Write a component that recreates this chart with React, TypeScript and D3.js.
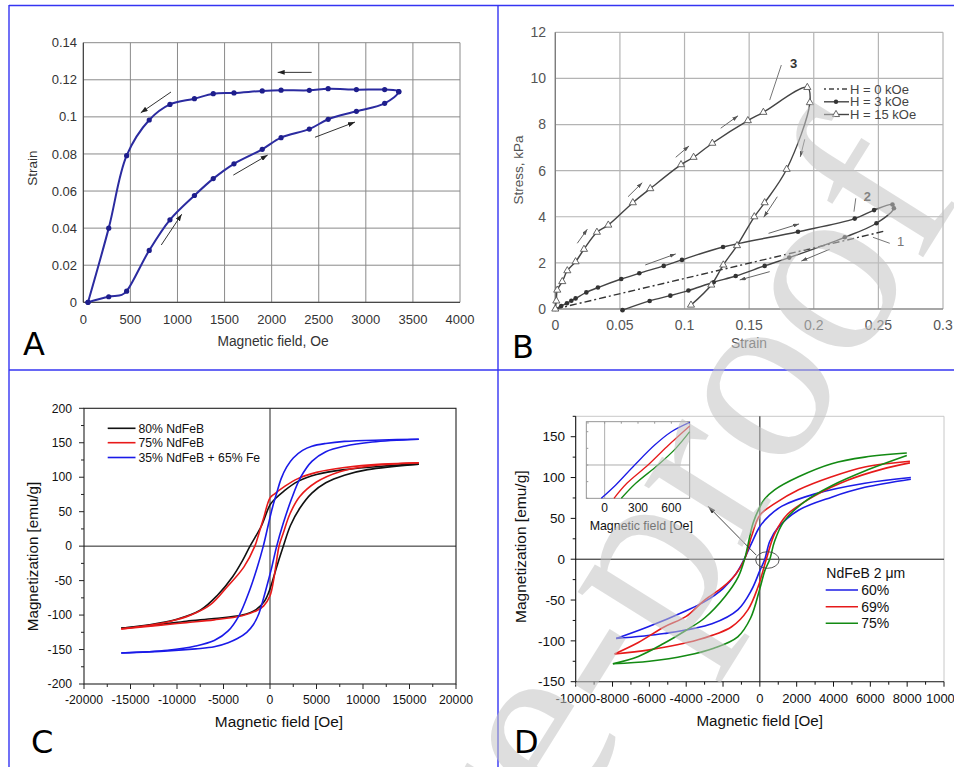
import { useEffect, useRef } from 'react';
import * as d3 from 'd3';

// ---------- panel A : strain vs magnetic field ----------
const aFieldUp = [50, 270, 408, 460, 700, 920, 1180, 1380, 1600, 1900, 2100, 2400, 2600, 2900, 3200, 3350];
const aStrainUp = [0, 0.003, 0.004, 0.006, 0.028, 0.0445, 0.0576, 0.0667, 0.0747, 0.0825, 0.0888, 0.0934, 0.0987, 0.103, 0.1073, 0.1136];
const aMarkUp = [1, 1, 0, 1, 1, 1, 1, 1, 1, 1, 1, 1, 1, 1, 1, 1];
const aFieldDown = [3350, 3200, 2900, 2600, 2400, 2100, 1900, 1600, 1380, 1180, 920, 700, 460, 270, 50];
const aStrainDown = [0.1136, 0.1147, 0.1147, 0.1152, 0.1143, 0.1144, 0.114, 0.1129, 0.1125, 0.1098, 0.1067, 0.0983, 0.0791, 0.04, 0];
const aXTicks = [0, 500, 1000, 1500, 2000, 2500, 3000, 3500, 4000];
const aYTicks = [0, 0.02, 0.04, 0.06, 0.08, 0.1, 0.12, 0.14];
const aYLabels = ['0', '0.02', '0.04', '0.06', '0.08', '0.1', '0.12', '0.14'];
// arrows: [x1, y1, x2, y2] in data units
const aArrows = [
  [2425, 0.124, 2064, 0.124],
  [931, 0.1134, 610, 0.1022],
  [828, 0.0309, 1045, 0.0475],
  [1593, 0.0686, 1958, 0.0794],
  [2460, 0.089, 2885, 0.0972],
];

// ---------- panel B : stress vs strain ----------
const bStrain1 = [0, 0.255];
const bStress1 = [0, 3.38];
const bStrain2 = [0, 0.0046, 0.009, 0.0124, 0.0157, 0.024, 0.033, 0.051, 0.065, 0.0839, 0.098, 0.1298, 0.1878, 0.2317, 0.2467, 0.2609, 0.262, 0.2485, 0.224, 0.181, 0.162, 0.1396, 0.1225, 0.103, 0.089, 0.073, 0.052];
const bStress2 = [0, 0.13, 0.25, 0.36, 0.46, 0.72, 0.93, 1.3, 1.55, 1.87, 2.13, 2.69, 3.35, 3.92, 4.29, 4.53, 4.37, 3.72, 3.11, 2.23, 1.87, 1.43, 1.16, 0.8, 0.58, 0.35, -0.05];
const bStrain3 = [0, 0.0008, 0.0015, 0.0054, 0.0093, 0.0157, 0.0222, 0.0322, 0.041, 0.06, 0.0735, 0.0973, 0.107, 0.1215, 0.149, 0.161, 0.195, 0.197, 0.179, 0.162, 0.154, 0.1406, 0.13, 0.1207, 0.105];
const bStress3 = [0, 0.35, 0.82, 1.19, 1.66, 2.05, 2.59, 3.33, 3.64, 4.61, 5.22, 6.26, 6.58, 7.19, 8.17, 8.53, 9.61, 8.95, 6.06, 4.61, 4.0, 2.75, 1.91, 1.04, 0.17];
const bXTicks = [0, 0.05, 0.1, 0.15, 0.2, 0.25, 0.3];
const bXLabels = ['0', '0.05', '0.1', '0.15', '0.2', '0.25', '0.3'];
const bYTicks = [0, 2, 4, 6, 8, 10, 12];
const bLegend = ['H = 0 kOe', 'H = 3 kOe', 'H = 15 kOe'];
const bArrows = [
  [0.017, 2.85, 0.0248, 3.46],
  [0.0563, 4.87, 0.0673, 5.48],
  [0.0932, 6.58, 0.1035, 7.07],
  [0.128, 7.84, 0.1414, 8.38],
  [0.193, 7.36, 0.1896, 6.6],
  [0.1718, 4.87, 0.1613, 3.98],
  [0.0696, 1.91, 0.0932, 2.39],
  [0.165, 3.28, 0.1886, 3.69],
  [0.2123, 2.59, 0.1904, 2.08],
  [0.1659, 1.62, 0.1427, 1.26],
];
const bCurveLabels = ['3', '2', '1'];
const bLabelPos = [[0.1845, 10.65], [0.2414, 4.9], [0.2673, 2.92]];
const bLeaders = [[0.1749, 10.58, 0.1659, 9.06], [0.2325, 4.8, 0.2311, 4.22], [0.2588, 2.85, 0.2458, 3.11]];

// ---------- panel C : magnetization loops ----------
const cSeries = ['80% NdFeB', '75% NdFeB', '35% NdFeB + 65% Fe'];
const cColors = ['#111111', '#e81a1a', '#1a1ae8'];
const cBlackUpH = [16000, 12000, 8000, 5000, 3000, 1500, 500, 0, -900, -2150, -3000, -4000, -5700, -7500, -10000, -13000, -16000];
const cBlackUpM = [119, 116, 111, 104, 94, 80, 68, 60, 30, 0, -22, -44, -72, -93, -106, -114, -119];
const cBlackLoH = [-16000, -12000, -9000, -6000, -3000, -1500, -600, 0, 500, 1000, 1430, 2200, 3200, 4500, 6000, 8000, 10500, 16000];
const cBlackLoM = [-119, -114, -109, -105, -100, -92, -80, -62, -40, -18, 0, 30, 55, 77, 92, 103, 111, 119];
const cRedUpH = [16000, 12000, 8000, 5000, 3000, 1500, 500, 0, -700, -1200, -1630, -2800, -4600, -6400, -8500, -11000, -16000];
const cRedUpM = [121, 119, 114, 107, 98, 86, 76, 70, 40, 18, 0, -30, -59, -85, -100, -110, -120];
const cRedLoH = [-16000, -12000, -9000, -6000, -3000, -1500, -700, 0, 400, 700, 970, 1430, 2150, 3200, 5000, 7500, 10500, 16000];
const cRedLoM = [-120, -115, -111, -107, -101, -94, -87, -72, -48, -22, 0, 19, 47, 72, 93, 108, 116, 121];
const cBlueUpH = [16000, 12000, 8000, 6000, 4500, 3500, 2500, 1800, 1200, 700, 300, -200, -720, -1400, -2300, -3300, -4500, -6000, -8000, -11000, -16000];
const cBlueUpM = [155, 154, 152, 149, 145, 139, 128, 115, 98, 76, 58, 30, 0, -32, -68, -100, -123, -137, -145, -151, -155];
const cBlueLoH = [-16000, -11000, -8000, -6000, -4500, -3500, -2500, -1800, -1200, -700, -300, 200, 720, 1400, 2300, 3300, 4500, 6000, 8000, 11000, 16000];
const cBlueLoM = [-155, -152, -149, -146, -140, -134, -125, -114, -98, -76, -56, -30, 0, 32, 68, 100, 123, 137, 145, 151, 155];
const cXTicks = [-20000, -15000, -10000, -5000, 0, 5000, 10000, 15000, 20000];
const cYTicks = [-200, -150, -100, -50, 0, 50, 100, 150, 200];

// ---------- panel D : NdFeB 2 um loops ----------
const dSeries = ['60%', '69%', '75%'];
const dColors = ['#1c1ce6', '#e61a1a', '#138a13'];
const dBlueUpH = [8200, 5700, 3000, 1200, 500, 0, -460, -850, -1300, -2000, -3000, -4000, -6100, -7800];
const dBlueUpM = [100, 93, 80, 65, 53, 40, 19, 0, -18, -36, -52, -63, -83, -97];
const dBlueLoH = [-7800, -5200, -2600, -1200, -460, 0, 270, 540, 1000, 2100, 3900, 5700, 8200];
const dBlueLoM = [-97, -91, -79, -62, -38, -14, 0, 22, 39, 60, 76, 88, 98];
const dRedUpH = [8150, 5700, 3900, 2100, 800, 0, -450, -830, -1300, -2000, -3000, -4000, -5200, -6600, -7890];
const dRedUpM = [120, 113, 101, 85, 68, 54, 28, 0, -18, -34, -50, -70, -83, -102, -116];
const dRedLoH = [-7890, -6000, -3400, -1550, -650, -100, 350, 800, 1500, 3000, 4800, 6600, 8150];
const dRedLoM = [-116, -111, -99, -83, -62, -34, 0, 31, 55, 78, 97, 110, 118];
const dGreenUpH = [7980, 5700, 3900, 2100, 800, 270, 0, -370, -830, -1180, -1900, -3000, -4000, -5200, -6600, -7980];
const dGreenUpM = [130, 125, 117, 101, 85, 74, 64, 44, 0, -22, -46, -72, -87, -103, -119, -128];
const dGreenLoH = [-7980, -6000, -4000, -2500, -1200, -500, 0, 270, 540, 800, 1300, 2400, 3900, 5700, 7980];
const dGreenLoM = [-128, -125, -118, -109, -95, -72, -36, -14, 0, 22, 46, 70, 90, 108, 127];
const dXTicks = [-10000, -8000, -6000, -4000, -2000, 0, 2000, 4000, 6000, 8000, 10000];
const dYTicks = [-150, -100, -50, 0, 50, 100, 150];
// inset (zoom near the origin)
const insBlueH = [-30, 100, 270, 450, 600, 765];
const insBlueM = [-10, -6, 0, 6, 10, 12.8];
const insRedH = [84, 200, 390, 560, 765];
const insRedM = [-10, -5.5, 0, 5.5, 11.7];
const insGreenH = [150, 280, 480, 640, 765];
const insGreenM = [-10, -5.5, 0, 5, 10];
const insXTicks = [0, 300, 600];
// ellipse around origin and arrow to the inset (data units)
const dEllipse = [410, -1];
const dArrow = [-190, 4.9, -2815, 64.9];

const SANS = "'Liberation Sans', Arial, sans-serif";

const zip = (xs: number[], ys: number[]) => xs.map((x, i) => [x, ys[i]] as [number, number]);

export default function App() {
  const ref = useRef<SVGSVGElement>(null);

  useEffect(() => {
    const svg = d3.select(ref.current);
    svg.selectAll('*').remove();
    svg.append('rect').attr('width', 954).attr('height', 767).attr('fill', '#fff');

    const defs = svg.append('defs');
    const mk = (id: string, color: string, w: number, h: number) =>
      defs.append('marker').attr('id', id).attr('markerUnits', 'userSpaceOnUse')
        .attr('markerWidth', w).attr('markerHeight', h).attr('refX', w).attr('refY', h / 2)
        .attr('orient', 'auto')
        .append('path').attr('d', `M0,0L${w},${h / 2}L0,${h}Z`).attr('fill', color);
    mk('headA', '#222', 7, 5);
    mk('headB', '#555', 6, 4);
    mk('headD', '#333', 8, 5);

    const smooth = d3.line<[number, number]>().curve(d3.curveCatmullRom.alpha(0.5));

    // ================= A =================
    {
      const g = svg.append('g');
      const x = d3.scaleLinear().domain([0, 4000]).range([83.3, 460]);
      const y = d3.scaleLinear().domain([0, 0.14]).range([302.3, 42.7]);
      g.selectAll('.vg').data(aXTicks).enter().append('line')
        .attr('x1', d => x(d)).attr('x2', d => x(d)).attr('y1', y(0)).attr('y2', y(0.14))
        .attr('stroke', '#8a8a8a').attr('stroke-width', 1);
      g.selectAll('.hg').data(aYTicks).enter().append('line')
        .attr('y1', d => y(d)).attr('y2', d => y(d)).attr('x1', x(0)).attr('x2', x(4000))
        .attr('stroke', '#8a8a8a').attr('stroke-width', 1);
      g.append('line').attr('x1', x(0)).attr('x2', x(4000)).attr('y1', y(0)).attr('y2', y(0)).attr('stroke', '#333');
      g.append('line').attr('x1', x(0)).attr('x2', x(0)).attr('y1', y(0)).attr('y2', y(0.14)).attr('stroke', '#333');
      g.selectAll('.xl').data(aXTicks).enter().append('text')
        .attr('x', d => x(d)).attr('y', 319.5).attr('dy', '0.35em').attr('text-anchor', 'middle')
        .attr('font-family', SANS).attr('font-size', 13).attr('fill', '#333').text(d => String(d));
      g.selectAll('.yl').data(aYTicks).enter().append('text')
        .attr('x', 77).attr('y', d => y(d)).attr('dy', '0.35em').attr('text-anchor', 'end')
        .attr('font-family', SANS).attr('font-size', 13).attr('fill', '#333').text((d, i) => aYLabels[i]);
      g.append('text').attr('transform', 'translate(32,168) rotate(-90)').attr('dy', '0.35em')
        .attr('text-anchor', 'middle').attr('font-family', SANS).attr('font-size', 13.5).attr('fill', '#333').text('Strain');
      g.append('text').attr('x', 273).attr('y', 341).attr('dy', '0.35em')
        .attr('text-anchor', 'middle').attr('font-family', SANS).attr('font-size', 13.8).attr('fill', '#333').text('Magnetic field, Oe');

      const pts = zip(aFieldUp, aStrainUp).concat(zip(aFieldDown, aStrainDown).slice(1));
      const px = pts.map(p => [x(p[0]), y(p[1])] as [number, number]);
      g.append('path').attr('d', smooth(px)).attr('fill', 'none').attr('stroke', '#2b2ba0').attr('stroke-width', 2);
      const marks = zip(aFieldUp, aStrainUp).filter((_, i) => aMarkUp[i]).concat(zip(aFieldDown, aStrainDown));
      g.selectAll('.mA').data(marks).enter().append('circle')
        .attr('cx', d => x(d[0])).attr('cy', d => y(d[1])).attr('r', 2.6).attr('fill', '#1e1e8c');
      g.selectAll('.arA').data(aArrows).enter().append('line')
        .attr('x1', d => x(d[0])).attr('y1', d => y(d[1])).attr('x2', d => x(d[2])).attr('y2', d => y(d[3]))
        .attr('stroke', '#333').attr('stroke-width', 1).attr('marker-end', 'url(#headA)');
    }

    // ================= B =================
    {
      const g = svg.append('g');
      const x = d3.scaleLinear().domain([0, 0.3]).range([555.3, 943]);
      const y = d3.scaleLinear().domain([0, 12]).range([309, 32.3]);
      g.selectAll('.vg').data(bXTicks).enter().append('line')
        .attr('x1', d => x(d)).attr('x2', d => x(d)).attr('y1', y(0)).attr('y2', y(12))
        .attr('stroke', '#b4b4b4').attr('stroke-width', 1.2);
      g.selectAll('.hg').data(bYTicks).enter().append('line')
        .attr('y1', d => y(d)).attr('y2', d => y(d)).attr('x1', x(0)).attr('x2', x(0.3))
        .attr('stroke', '#b4b4b4').attr('stroke-width', 1.2);
      g.append('line').attr('x1', x(0)).attr('x2', x(0.3)).attr('y1', y(0)).attr('y2', y(0)).attr('stroke', '#777').attr('stroke-width', 1.2);
      g.append('line').attr('x1', x(0)).attr('x2', x(0)).attr('y1', y(0)).attr('y2', y(12)).attr('stroke', '#777').attr('stroke-width', 1.2);
      g.selectAll('.xl').data(bXTicks).enter().append('text')
        .attr('x', d => x(d)).attr('y', 325).attr('dy', '0.35em').attr('text-anchor', 'middle')
        .attr('font-family', SANS).attr('font-size', 14).attr('fill', '#555').text((d, i) => bXLabels[i]);
      g.selectAll('.yl').data(bYTicks).enter().append('text')
        .attr('x', 546).attr('y', d => y(d)).attr('dy', '0.35em').attr('text-anchor', 'end')
        .attr('font-family', SANS).attr('font-size', 14).attr('fill', '#555').text(d => String(d));
      g.append('text').attr('transform', 'translate(518,170) rotate(-90)').attr('dy', '0.35em')
        .attr('text-anchor', 'middle').attr('font-family', SANS).attr('font-size', 13.5).attr('fill', '#555').text('Stress,  kPa');
      g.append('text').attr('x', 749).attr('y', 343).attr('dy', '0.35em')
        .attr('text-anchor', 'middle').attr('font-family', SANS).attr('font-size', 13.8).attr('fill', '#555').text('Strain');

      const toPx = (xs: number[], ys: number[]) => zip(xs, ys).map(p => [x(p[0]), y(p[1])] as [number, number]);
      g.append('path').attr('d', d3.line()(toPx(bStrain1, bStress1))).attr('fill', 'none')
        .attr('stroke', '#333').attr('stroke-width', 1.4).attr('stroke-dasharray', '7,3,2,3');
      g.append('path').attr('d', smooth(toPx(bStrain2, bStress2))).attr('fill', 'none').attr('stroke', '#444').attr('stroke-width', 1.4);
      g.append('path').attr('d', smooth(toPx(bStrain3, bStress3))).attr('fill', 'none').attr('stroke', '#444').attr('stroke-width', 1.4);
      g.selectAll('.m2').data(toPx(bStrain2, bStress2)).enter().append('circle')
        .attr('cx', d => d[0]).attr('cy', d => d[1]).attr('r', 2.3).attr('fill', '#333');
      const tri = d3.symbol().type(d3.symbolTriangle).size(22);
      g.selectAll('.m3').data(toPx(bStrain3, bStress3)).enter().append('path')
        .attr('d', tri()).attr('transform', d => `translate(${d[0]},${d[1]})`)
        .attr('fill', '#fff').attr('stroke', '#555').attr('stroke-width', 0.9);

      g.selectAll('.arB').data(bArrows).enter().append('line')
        .attr('x1', d => x(d[0])).attr('y1', d => y(d[1])).attr('x2', d => x(d[2])).attr('y2', d => y(d[3]))
        .attr('stroke', '#666').attr('stroke-width', 1).attr('marker-end', 'url(#headB)');
      g.selectAll('.ld').data(bLeaders).enter().append('line')
        .attr('x1', d => x(d[0])).attr('y1', d => y(d[1])).attr('x2', d => x(d[2])).attr('y2', d => y(d[3]))
        .attr('stroke', '#777').attr('stroke-width', 1);
      g.selectAll('.cl').data(bLabelPos).enter().append('text')
        .attr('x', d => x(d[0])).attr('y', d => y(d[1])).attr('dy', '0.35em').attr('text-anchor', 'middle')
        .attr('font-family', SANS).attr('font-size', 13).attr('font-weight', (d, i) => (i < 2 ? 'bold' : 'normal'))
        .attr('fill', (d, i) => (i < 2 ? '#333' : '#777')).text((d, i) => bCurveLabels[i]);

      // legend
      const rows = [89, 101.8, 114.5];
      const lg = g.append('g');
      rows.forEach((ry, i) => {
        lg.append('line').attr('x1', 824).attr('x2', 849).attr('y1', ry).attr('y2', ry)
          .attr('stroke', '#444').attr('stroke-width', 1.4).attr('stroke-dasharray', i === 0 ? '2,3,5,3' : null);
        if (i === 1) lg.append('circle').attr('cx', 836).attr('cy', ry).attr('r', 2.2).attr('fill', '#333');
        if (i === 2) lg.append('path').attr('d', tri()).attr('transform', `translate(836,${ry})`)
          .attr('fill', '#fff').attr('stroke', '#555').attr('stroke-width', 0.9);
        lg.append('text').attr('x', 850).attr('y', ry).attr('dy', '0.35em').attr('font-family', SANS)
          .attr('font-size', 13).attr('fill', '#444').text(bLegend[i]);
      });
    }

    // ================= C =================
    {
      const g = svg.append('g');
      const x = d3.scaleLinear().domain([-20000, 20000]).range([84, 456]);
      const y = d3.scaleLinear().domain([-200, 200]).range([684, 408.3]);
      g.append('rect').attr('x', x(-20000)).attr('y', y(200)).attr('width', x(20000) - x(-20000))
        .attr('height', y(-200) - y(200)).attr('fill', 'none').attr('stroke', '#222').attr('stroke-width', 1.1);
      g.append('line').attr('x1', x(0)).attr('x2', x(0)).attr('y1', y(-200)).attr('y2', y(200)).attr('stroke', '#222');
      g.append('line').attr('y1', y(0)).attr('y2', y(0)).attr('x1', x(-20000)).attr('x2', x(20000)).attr('stroke', '#222');
      const minorX = d3.range(-20000, 20001, 2500);
      g.selectAll('.tx').data(minorX).enter().append('line')
        .attr('x1', d => x(d)).attr('x2', d => x(d)).attr('y1', y(-200))
        .attr('y2', d => y(-200) + (d % 5000 === 0 ? 5 : 3)).attr('stroke', '#222');
      const minorY = d3.range(-200, 201, 25);
      g.selectAll('.ty').data(minorY).enter().append('line')
        .attr('y1', d => y(d)).attr('y2', d => y(d)).attr('x1', x(-20000))
        .attr('x2', d => x(-20000) - (d % 50 === 0 ? 5 : 3)).attr('stroke', '#222');
      g.selectAll('.xl').data(cXTicks).enter().append('text')
        .attr('x', d => x(d)).attr('y', 700).attr('dy', '0.35em').attr('text-anchor', 'middle')
        .attr('font-family', SANS).attr('font-size', 12.2).attr('fill', '#111').text(d => String(d));
      g.selectAll('.yl').data(cYTicks).enter().append('text')
        .attr('x', 72).attr('y', d => y(d)).attr('dy', '0.35em').attr('text-anchor', 'end')
        .attr('font-family', SANS).attr('font-size', 12.2).attr('fill', '#111').text(d => String(d));
      g.append('text').attr('transform', 'translate(33,556.5) rotate(-90)').attr('dy', '0.35em')
        .attr('text-anchor', 'middle').attr('font-family', SANS).attr('font-size', 15.2).attr('fill', '#111').text('Magnetization [emu/g]');
      g.append('text').attr('x', 279).attr('y', 721.5).attr('dy', '0.35em')
        .attr('text-anchor', 'middle').attr('font-family', SANS).attr('font-size', 15.4).attr('fill', '#111').text('Magnetic field [Oe]');

      const loops = [
        [cBlackUpH, cBlackUpM, cBlackLoH, cBlackLoM],
        [cRedUpH, cRedUpM, cRedLoH, cRedLoM],
        [cBlueUpH, cBlueUpM, cBlueLoH, cBlueLoM],
      ];
      loops.forEach((l, i) => {
        [[l[0], l[1]], [l[2], l[3]]].forEach(br => {
          const p = zip(br[0], br[1]).map(q => [x(q[0]), y(q[1])] as [number, number]);
          g.append('path').attr('d', smooth(p)).attr('fill', 'none').attr('stroke', cColors[i]).attr('stroke-width', 1.6);
        });
      });
      const rows = [428.3, 442.7, 457.5];
      rows.forEach((ry, i) => {
        g.append('line').attr('x1', 107.7).attr('x2', 135.5).attr('y1', ry).attr('y2', ry).attr('stroke', cColors[i]).attr('stroke-width', 1.6);
        g.append('text').attr('x', 138.5).attr('y', ry).attr('dy', '0.35em').attr('font-family', SANS)
          .attr('font-size', 12.2).attr('fill', '#111').text(cSeries[i]);
      });
    }

    // ================= D =================
    {
      const g = svg.append('g');
      const x = d3.scaleLinear().domain([-10000, 10000]).range([575.7, 944]);
      const y = d3.scaleLinear().domain([-150, 175]).range([681.7, 416.3]);
      g.append('line').attr('x1', x(-10000)).attr('x2', x(10000)).attr('y1', y(175)).attr('y2', y(175)).attr('stroke', '#c8c8c8');
      g.append('line').attr('x1', x(10000)).attr('x2', x(10000)).attr('y1', y(175)).attr('y2', y(-150)).attr('stroke', '#c8c8c8');
      g.append('line').attr('x1', x(-10000)).attr('x2', x(10000)).attr('y1', y(-150)).attr('y2', y(-150)).attr('stroke', '#111').attr('stroke-width', 1.1);
      g.append('line').attr('x1', x(-10000)).attr('x2', x(-10000)).attr('y1', y(175)).attr('y2', y(-150)).attr('stroke', '#111').attr('stroke-width', 1.1);
      g.append('line').attr('x1', x(0)).attr('x2', x(0)).attr('y1', y(175)).attr('y2', y(-150)).attr('stroke', '#111');
      g.append('line').attr('x1', x(-10000)).attr('x2', x(10000)).attr('y1', y(0)).attr('y2', y(0)).attr('stroke', '#111');
      const minorX = d3.range(-10000, 10001, 1000);
      g.selectAll('.tx').data(minorX).enter().append('line')
        .attr('x1', d => x(d)).attr('x2', d => x(d)).attr('y1', y(-150))
        .attr('y2', d => y(-150) + (d % 2000 === 0 ? 5 : 3)).attr('stroke', '#111');
      const minorY = d3.range(-150, 176, 25);
      g.selectAll('.ty').data(minorY).enter().append('line')
        .attr('y1', d => y(d)).attr('y2', d => y(d)).attr('x1', x(-10000))
        .attr('x2', d => x(-10000) - (d % 50 === 0 ? 5 : 3)).attr('stroke', '#111');
      g.selectAll('.xl').data(dXTicks).enter().append('text')
        .attr('x', d => x(d)).attr('y', 698.3).attr('dy', '0.35em').attr('text-anchor', 'middle')
        .attr('font-family', SANS).attr('font-size', 13).attr('fill', '#111').text(d => String(d));
      g.selectAll('.yl').data(dYTicks).enter().append('text')
        .attr('x', 565).attr('y', d => y(d)).attr('dy', '0.35em').attr('text-anchor', 'end')
        .attr('font-family', SANS).attr('font-size', 13.5).attr('fill', '#111').text(d => String(d));
      g.append('text').attr('transform', 'translate(521,546.7) rotate(-90)').attr('dy', '0.35em')
        .attr('text-anchor', 'middle').attr('font-family', SANS).attr('font-size', 15.5).attr('fill', '#111').text('Magnetization [emu/g]');
      g.append('text').attr('x', 759.7).attr('y', 720.7).attr('dy', '0.35em')
        .attr('text-anchor', 'middle').attr('font-family', SANS).attr('font-size', 15.2).attr('fill', '#111').text('Magnetic field [Oe]');

      const loops = [
        [dBlueUpH, dBlueUpM, dBlueLoH, dBlueLoM],
        [dRedUpH, dRedUpM, dRedLoH, dRedLoM],
        [dGreenUpH, dGreenUpM, dGreenLoH, dGreenLoM],
      ];
      loops.forEach((l, i) => {
        [[l[0], l[1]], [l[2], l[3]]].forEach(br => {
          const p = zip(br[0], br[1]).map(q => [x(q[0]), y(q[1])] as [number, number]);
          g.append('path').attr('d', smooth(p)).attr('fill', 'none').attr('stroke', dColors[i]).attr('stroke-width', 1.6);
        });
      });

      // ellipse + arrow
      g.append('ellipse').attr('cx', x(dEllipse[0])).attr('cy', y(dEllipse[1])).attr('rx', 11.7).attr('ry', 8.3)
        .attr('fill', 'none').attr('stroke', '#444').attr('stroke-width', 0.9);
      g.append('line').attr('x1', x(dArrow[0])).attr('y1', y(dArrow[1])).attr('x2', x(dArrow[2])).attr('y2', y(dArrow[3]))
        .attr('stroke', '#333').attr('stroke-width', 0.9).attr('marker-end', 'url(#headD)');

      // legend
      g.append('text').attr('x', 826.3).attr('y', 573.3).attr('dy', '0.35em').attr('font-family', SANS)
        .attr('font-size', 14).attr('fill', '#111').text('NdFeB 2 \u03bcm');
      const rows = [590, 606.7, 623.3];
      rows.forEach((ry, i) => {
        g.append('line').attr('x1', 825.7).attr('x2', 858).attr('y1', ry).attr('y2', ry).attr('stroke', dColors[i]).attr('stroke-width', 1.6);
        g.append('text').attr('x', 861.3).attr('y', ry).attr('dy', '0.35em').attr('font-family', SANS)
          .attr('font-size', 14).attr('fill', '#111').text(dSeries[i]);
      });

      // inset
      const ix = d3.scaleLinear().domain([-165, 765]).range([586.3, 689.7]);
      const iy = d3.scaleLinear().domain([-10, 13]).range([498.3, 421.7]);
      const ig = g.append('g');
      ig.append('rect').attr('x', ix(-165)).attr('y', iy(13)).attr('width', ix(765) - ix(-165))
        .attr('height', iy(-10) - iy(13)).attr('fill', '#fff').attr('stroke', '#8a8a8a').attr('stroke-width', 0.9);
      ig.append('line').attr('x1', ix(0)).attr('x2', ix(0)).attr('y1', iy(-10)).attr('y2', iy(13)).attr('stroke', '#999').attr('stroke-width', 0.8);
      ig.append('line').attr('x1', ix(-165)).attr('x2', ix(765)).attr('y1', iy(0)).attr('y2', iy(0)).attr('stroke', '#999').attr('stroke-width', 0.8);
      const ins = [[insBlueH, insBlueM], [insRedH, insRedM], [insGreenH, insGreenM]];
      ins.forEach((s, i) => {
        const p = zip(s[0], s[1]).map(q => [ix(q[0]), iy(q[1])] as [number, number]);
        ig.append('path').attr('d', smooth(p)).attr('fill', 'none').attr('stroke', dColors[i]).attr('stroke-width', 1.3);
      });
      ig.selectAll('.it').data(d3.range(-150, 751, 150)).enter().append('line')
        .attr('x1', d => ix(d)).attr('x2', d => ix(d)).attr('y1', iy(13)).attr('y2', iy(13) + 2).attr('stroke', '#999');
      ig.selectAll('.il').data(d3.range(-10, 13, 5)).enter().append('line')
        .attr('y1', d => iy(d)).attr('y2', d => iy(d)).attr('x1', ix(-165)).attr('x2', ix(-165) + 2).attr('stroke', '#999');
      ig.selectAll('.ixl').data(insXTicks).enter().append('text')
        .attr('x', d => ix(d)).attr('y', 507.5).attr('dy', '0.35em').attr('text-anchor', 'middle')
        .attr('font-family', SANS).attr('font-size', 12).attr('fill', '#111').text(d => String(d));
      ig.append('text').attr('x', 641.3).attr('y', 525.3).attr('dy', '0.35em').attr('text-anchor', 'middle')
        .attr('font-family', SANS).attr('font-size', 12.4).attr('fill', '#111').text('Magnetic field [Oe]');
    }

    // ================= panel letters & frame =================
    const letters = [['A', 23, 355], ['B', 512, 358], ['C', 31, 753], ['D', 514, 753]];
    letters.forEach(l => {
      svg.append('text').attr('x', l[1] as number).attr('y', l[2] as number)
        .attr('font-family', "'DejaVu Sans', sans-serif").attr('font-size', 32).attr('fill', '#000').text(l[0] as string);
    });
    const blue = '#3434f2';
    svg.append('line').attr('x1', 9).attr('x2', 954).attr('y1', 5.5).attr('y2', 5.5).attr('stroke', blue).attr('stroke-width', 1.4);
    svg.append('line').attr('x1', 9).attr('x2', 954).attr('y1', 370).attr('y2', 370).attr('stroke', blue).attr('stroke-width', 1.4);
    svg.append('line').attr('x1', 9).attr('x2', 9).attr('y1', 5).attr('y2', 767).attr('stroke', blue).attr('stroke-width', 1.4);
    svg.append('line').attr('x1', 498).attr('x2', 498).attr('y1', 5).attr('y2', 767).attr('stroke', blue).attr('stroke-width', 1.4);

    // ================= watermark =================
    svg.append('text').attr('transform', 'translate(962,195) rotate(-58)').attr('text-anchor', 'end')
      .attr('font-family', "'Liberation Serif', 'DejaVu Serif', serif").attr('font-size', 252)
      .attr('fill', '#c4c4c4').attr('opacity', 0.55).text('Journal Pre-proof');
  }, []);

  return <svg ref={ref} width={954} height={767} style={{ position: 'absolute', left: 0, top: 0, display: 'block' }} />;
}
